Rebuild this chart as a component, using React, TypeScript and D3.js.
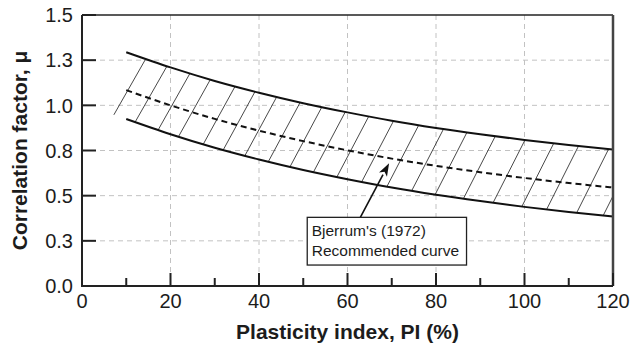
import React from "react";
import * as d3 from "d3";

// Plasticity index values where the band curves are sampled
const plasticityIndex = [10, 20, 30, 40, 50, 60, 70, 80, 90, 100, 110, 120];
// Upper bound of the correction-factor band
const upperMu = [1.294, 1.21, 1.135, 1.07, 1.012, 0.961, 0.915, 0.875, 0.84, 0.808, 0.78, 0.755];
// Bjerrum's recommended curve (dashed)
const recommendedMu = [1.084, 1.0, 0.925, 0.86, 0.802, 0.751, 0.705, 0.665, 0.63, 0.598, 0.57, 0.545];
// Lower bound of the band
const lowerMu = [0.924, 0.84, 0.765, 0.7, 0.642, 0.591, 0.545, 0.505, 0.47, 0.438, 0.41, 0.385];

// PI at which each hatch stroke leaves the lower curve
const hatchStartPI = [7.2, 12.0, 17.2, 21.8, 27.4, 31.9, 36.8, 42.1, 47.0, 52.3, 57.6, 63.2, 68.9, 74.5, 79.8, 86.2, 92.9, 99.4, 105.0, 111.8, 117.8];
const hatchRunPI = 7.2;

const xTicks = [0, 20, 40, 60, 80, 100, 120];
const xMinorTicks = [10, 30, 50, 70, 90, 110];
const yTicks = [0, 0.25, 0.5, 0.75, 1.0, 1.25, 1.5];
const yTickLabels = ["0.0", "0.3", "0.5", "0.8", "1.0", "1.3", "1.5"];
const xGrid = [20, 40, 60, 80, 100];
const yGrid = [0.25, 0.5, 0.75, 1.0, 1.25];

// Callout box and arrow (data units)
const calloutLines = ["Bjerrum's (1972)", "Recommended curve"];
const calloutBox = { x0: 50.9, x1: 86.9, y0: 0.38, y1: 0.116 };
const arrowFrom = { pi: 62.9, mu: 0.38 };
const arrowTo = { pi: 69.4, mu: 0.68 };

const W = 630;
const H = 350;
const left = 82;
const right = 613;
const top = 15;
const bottom = 286;
const FONT = "'Liberation Sans', Arial, Helvetica, sans-serif";
const INK = "#1c1c1c";

export default function App() {
  const x = d3.scaleLinear().domain([0, 120]).range([left, right]);
  const y = d3.scaleLinear().domain([0, 1.5]).range([bottom, top]);

  const line = (vals: number[]) =>
    d3
      .line<number>()
      .x((_, i) => x(plasticityIndex[i]))
      .y((v) => y(v))
      .curve(d3.curveMonotoneX)(vals) as string;

  const upperAt = d3.scaleLinear().domain(plasticityIndex).range(upperMu);
  const lowerAt = d3.scaleLinear().domain(plasticityIndex).range(lowerMu);
  // extrapolate beyond the sampled range for the end strokes
  const lowerExt = (pi: number) =>
    pi < plasticityIndex[0]
      ? lowerMu[0] + ((lowerMu[1] - lowerMu[0]) / (plasticityIndex[1] - plasticityIndex[0])) * (pi - plasticityIndex[0])
      : lowerAt(pi);
  const upperExt = (pi: number) =>
    pi > 120
      ? upperMu[11] + ((upperMu[11] - upperMu[10]) / 10) * (pi - 120)
      : upperAt(pi);

  // arrow geometry
  const ax0 = x(arrowFrom.pi);
  const ay0 = y(arrowFrom.mu);
  const ax1 = x(arrowTo.pi);
  const ay1 = y(arrowTo.mu);
  const len = Math.hypot(ax1 - ax0, ay1 - ay0);
  const ux = (ax1 - ax0) / len;
  const uy = (ay1 - ay0) / len;
  const headL = 13;
  const headW = 4.5;
  const bx = ax1 - ux * headL;
  const by = ay1 - uy * headL;
  const head = [
    [ax1, ay1],
    [bx - uy * headW, by + ux * headW],
    [ax1 - ux * headL * 0.75, ay1 - uy * headL * 0.75],
    [bx + uy * headW, by - ux * headW],
  ]
    .map((p) => p.join(","))
    .join(" ");

  return (
    <svg
      width={W}
      height={H}
      style={{ position: "absolute", left: 0, top: 0, background: "#fff" }}
      fontFamily={FONT}
    >
      <defs>
        <clipPath id="plotClip">
          <rect x={left} y={top} width={right - left} height={bottom - top} />
        </clipPath>
      </defs>

      {/* grid */}
      <g stroke="#c2c2c2" strokeWidth={1} strokeDasharray="5,4">
        {xGrid.map((v) => (
          <line key={"gx" + v} x1={x(v)} x2={x(v)} y1={top} y2={bottom} />
        ))}
        {yGrid.map((v) => (
          <line key={"gy" + v} x1={left} x2={right} y1={y(v)} y2={y(v)} />
        ))}
      </g>

      {/* hatching across the band */}
      <g clipPath="url(#plotClip)" stroke="#333" strokeWidth={0.9}>
        {hatchStartPI.map((pi) => {
          const pe = pi + hatchRunPI;
          return (
            <line
              key={"h" + pi}
              x1={x(pi)}
              y1={y(lowerExt(pi))}
              x2={x(pe)}
              y2={y(upperExt(pe))}
            />
          );
        })}
      </g>

      {/* band limits and recommended curve */}
      <g fill="none" stroke="#111">
        <path d={line(upperMu)} strokeWidth={2} />
        <path d={line(lowerMu)} strokeWidth={2} />
        <path d={line(recommendedMu)} strokeWidth={2} strokeDasharray="6,4" />
      </g>

      {/* frame */}
      <line x1={left} x2={right} y1={top} y2={top} stroke="#222" strokeWidth={1.5} />
      <line x1={right} x2={right} y1={top} y2={bottom} stroke="#444" strokeWidth={2.5} />
      <line x1={left} x2={left} y1={top} y2={bottom + 1} stroke="#222" strokeWidth={2} />
      <line x1={left} x2={right} y1={bottom} y2={bottom} stroke="#222" strokeWidth={2} />

      {/* ticks */}
      <g stroke="#222" strokeWidth={2}>
        {xTicks.map((v) => (
          <line key={"xt" + v} x1={x(v)} x2={x(v)} y1={bottom} y2={bottom - 13} />
        ))}
        {xMinorTicks.map((v) => (
          <line key={"xm" + v} x1={x(v)} x2={x(v)} y1={bottom} y2={bottom - 8} />
        ))}
        {yTicks.map((v) => (
          <line key={"yt" + v} x1={left} x2={left + 14} y1={y(v)} y2={y(v)} />
        ))}
      </g>

      {/* tick labels */}
      <g fill={INK} fontSize={20}>
        {xTicks.map((v) => (
          <text key={"xl" + v} x={x(v)} y={308} textAnchor="middle">
            {v}
          </text>
        ))}
        {yTicks.map((v, i) => (
          <text key={"yl" + v} x={73} y={y(v)} dy="0.36em" textAnchor="end">
            {yTickLabels[i]}
          </text>
        ))}
      </g>

      {/* axis titles */}
      <text
        x={(left + right) / 2}
        y={339}
        textAnchor="middle"
        fontSize={21}
        fontWeight="bold"
        fill={INK}
      >
        Plasticity index, PI (%)
      </text>
      <text
        transform={`translate(27,${(top + bottom) / 2}) rotate(-90)`}
        textAnchor="middle"
        fontSize={21}
        fontWeight="bold"
        fill={INK}
      >
        Correlation factor, μ
      </text>

      {/* callout */}
      <line x1={ax0} y1={ay0} x2={bx} y2={by} stroke="#111" strokeWidth={1.6} />
      <polygon points={head} fill="#111" />
      <rect
        x={x(calloutBox.x0)}
        y={y(calloutBox.y0)}
        width={x(calloutBox.x1) - x(calloutBox.x0)}
        height={y(calloutBox.y1) - y(calloutBox.y0)}
        fill="#fff"
        stroke="#222"
        strokeWidth={1.3}
      />
      <g fill={INK} fontSize={15.5}>
        {calloutLines.map((t, i) => (
          <text key={t} x={x(calloutBox.x0) + 4.5} y={236 + i * 19.5}>
            {t}
          </text>
        ))}
      </g>
    </svg>
  );
}
